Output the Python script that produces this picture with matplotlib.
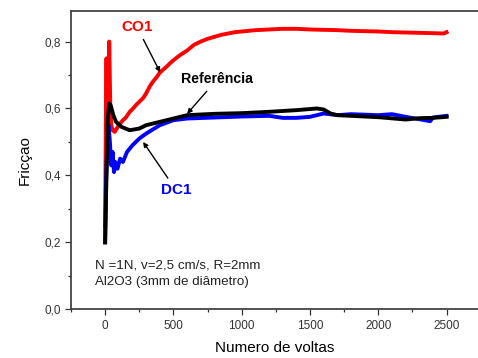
import matplotlib
matplotlib.use("Agg")
import matplotlib.pyplot as plt
from matplotlib.ticker import MultipleLocator, FuncFormatter

plt.rcParams['font.family'] = ['Liberation Sans', 'DejaVu Sans']

# CO1 (red)
co1_x = [0, 5, 10, 14, 18, 22, 26, 30, 34, 38, 45, 55, 70, 100, 130, 150, 180, 200,
         230, 250, 280, 300, 330, 350, 380, 400, 430, 450, 480, 500, 550, 600, 650,
         700, 750, 800, 850, 900, 950, 1000, 1100, 1200, 1300, 1400, 1500,
         1600, 1700, 1800, 1900, 2000, 2100, 2200, 2300, 2400, 2480, 2500]
co1_y = [0.25, 0.55, 0.75, 0.56, 0.68, 0.74, 0.64, 0.80, 0.70, 0.60, 0.55, 0.535, 0.53,
         0.55, 0.565, 0.572, 0.59, 0.598, 0.612, 0.62, 0.632, 0.645, 0.668, 0.68,
         0.695, 0.707, 0.718, 0.725, 0.737, 0.744, 0.76, 0.773, 0.79, 0.80, 0.808,
         0.814, 0.82, 0.824, 0.828, 0.83, 0.834, 0.836, 0.838, 0.838, 0.836,
         0.835, 0.834, 0.832, 0.831, 0.83, 0.828, 0.827, 0.826, 0.825, 0.824, 0.828]

# Referência (black)
ref_x = [0, 10, 20, 30, 40, 60, 80, 120, 180, 250, 300, 400, 500, 600, 800, 1000,
         1200, 1400, 1550, 1600, 1650, 1700, 1800, 2000, 2200, 2300, 2400, 2500]
ref_y = [0.20, 0.40, 0.57, 0.615, 0.61, 0.58, 0.56, 0.545, 0.535, 0.54, 0.55, 0.56,
         0.57, 0.58, 0.584, 0.586, 0.59, 0.595, 0.60, 0.597, 0.585, 0.58, 0.578,
         0.574, 0.567, 0.571, 0.572, 0.575]

# DC1 (blue)
dc1_x = [0, 5, 15, 25, 35, 45, 55, 65, 75, 90, 110, 130, 160, 200, 250, 300, 400,
         500, 600, 800, 1000, 1200, 1300, 1400, 1500, 1600, 1700, 1800, 2000, 2100,
         2200, 2300, 2380, 2400, 2500]
dc1_y = [0.20, 0.35, 0.50, 0.55, 0.50, 0.43, 0.47, 0.41, 0.44, 0.42, 0.45, 0.44,
         0.47, 0.49, 0.51, 0.525, 0.55, 0.565, 0.57, 0.573, 0.576, 0.578, 0.572,
         0.572, 0.575, 0.585, 0.58, 0.583, 0.58, 0.583, 0.575, 0.568, 0.562, 0.573,
         0.578]

x_ticks = [0, 500, 1000, 1500, 2000, 2500]
y_ticks = [0.0, 0.2, 0.4, 0.6, 0.8]

fig = plt.figure(figsize=(4.78, 3.58), dpi=100)
ax = fig.add_axes([0.1485, 0.136, 0.8515, 0.834])

ax.plot(co1_x, co1_y, color="#ff0000", linewidth=2.8)
ax.plot(dc1_x, dc1_y, color="#0000ff", linewidth=2.8)
ax.plot(ref_x, ref_y, color="black", linewidth=2.8)

ax.set_xlim(-250, 2730)
ax.set_ylim(0, 0.892)
ax.set_xticks(x_ticks)
ax.set_yticks(y_ticks)
ax.xaxis.set_minor_locator(MultipleLocator(250))
ax.yaxis.set_minor_locator(MultipleLocator(0.1))
ax.yaxis.set_major_formatter(FuncFormatter(lambda v, p: f"{v:.1f}".replace(".", ",")))
ax.tick_params(which="major", direction="out", length=4, width=0.9, labelsize=8.5,
               colors="#333333")
ax.tick_params(which="minor", direction="out", length=2.5, width=0.9, colors="#333333")
for s in ax.spines.values():
    s.set_color("#444444")
    s.set_linewidth(1.3)
ax.spines["right"].set_visible(False)

ax.set_xlabel("Numero de voltas", fontsize=11, labelpad=7)
ax.set_ylabel("Fricçao", fontsize=11, labelpad=9)

arrow = dict(arrowstyle="-|>", color="black", lw=1.0, mutation_scale=7, shrinkB=0)
ax.annotate("CO1", xy=(403, 0.708), xytext=(234, 0.843), color="#ff0000",
            fontsize=11, fontweight="bold", ha="center", va="center", arrowprops=arrow)
ax.annotate("Referência", xy=(600, 0.584), xytext=(820, 0.687), color="black",
            fontsize=10.2, fontweight="bold", ha="center", va="center", arrowprops=arrow)
ax.annotate("DC1", xy=(278, 0.5), xytext=(520, 0.356), color="#0000ff",
            fontsize=11, fontweight="bold", ha="center", va="center", arrowprops=arrow)

ax.text(-73, 0.132, "N =1N, v=2,5 cm/s, R=2mm", fontsize=9.6, va="center", color="#222222")
ax.text(-73, 0.082, "Al2O3 (3mm de diâmetro)", fontsize=9.6, va="center", color="#222222")

fig.savefig("out.png", dpi=100)
